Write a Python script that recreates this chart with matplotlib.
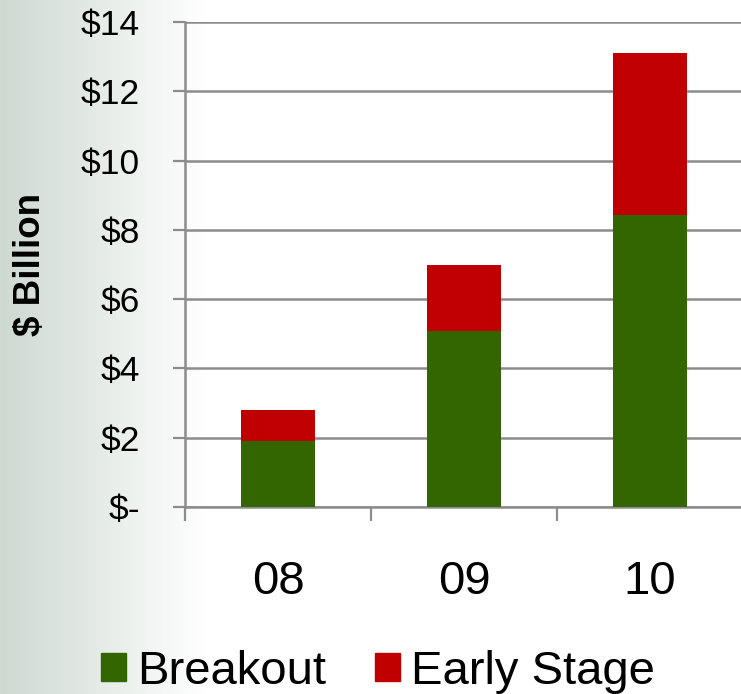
import numpy as np
import matplotlib
matplotlib.use("Agg")
import matplotlib.pyplot as plt
from matplotlib.patches import Rectangle

plt.rcParams['font.family'] = ['Liberation Sans', 'DejaVu Sans']

# Investment by year, $ billion
years = ["08", "09", "10"]
breakout = [1.9, 5.08, 8.43]
early_stage = [0.9, 1.92, 4.67]
y_ticks = [0, 2, 4, 6, 8, 10, 12, 14]
y_tick_labels = ["$-", "$2", "$4", "$6", "$8", "$10", "$12", "$14"]

GREEN = "#336600"
RED = "#C00000"
GRID = "#8c8c8c"

fig = plt.figure(figsize=(7.41, 6.94), dpi=100)

# soft grey-green wash fading to white from the left edge
bg = fig.add_axes([0, 0, 1, 1], zorder=-10)
w = 741
xs = np.arange(w)
t = np.clip(xs / 205.0, 0, 1)
left = np.array([206, 217, 210]) / 255.0
right = np.array([1.0, 1.0, 1.0])
row = left[None, :] * (1 - t[:, None]) + right[None, :] * t[:, None]
img = np.repeat(row[None, :, :], 10, axis=0)
bg.imshow(img, aspect='auto', extent=[0, 1, 0, 1])
bg.axis('off')

ax = fig.add_axes([185 / 741, 187 / 694, 558 / 741, 485 / 694])
ax.set_facecolor('none')

x = np.arange(len(years))
bw = 0.403
ax.bar(x, breakout, width=bw, color=GREEN, zorder=3)
ax.bar(x, early_stage, width=bw, bottom=breakout, color=RED, zorder=3)

ax.set_xlim(-0.5, 2.5)
ax.set_ylim(0, 14)

ax.set_yticks(y_ticks)
ax.set_yticklabels(y_tick_labels, fontsize=25.5)
ax.tick_params(axis='y', length=9, width=1.6, color=GRID, pad=23.5)
ax.yaxis.grid(True, color=GRID, linewidth=1.8, zorder=0)
ax.set_axisbelow(True)

# category boundaries as tick marks, labels at centres
ax.set_xticks([-0.5, 0.5, 1.5, 2.5])
ax.set_xticklabels([])
ax.tick_params(axis='x', which='major', length=10, width=1.6, color=GRID)
ax.set_xticks(x, minor=True)
ax.set_xticklabels(years, minor=True, fontsize=34)
ax.tick_params(axis='x', which='minor', length=0, pad=38)

for s in ['top', 'right']:
    ax.spines[s].set_visible(False)
for s in ['left', 'bottom']:
    ax.spines[s].set_color(GRID)
    ax.spines[s].set_linewidth(1.8)

ax.set_ylabel("$ Billion", fontsize=26.5, fontweight='bold', va='center')
ax.yaxis.set_label_coords(-0.276, 0.5)

handles = [Rectangle((0, 0), 1, 1, color=GREEN), Rectangle((0, 0), 1, 1, color=RED)]
fig.legend(handles, ["Breakout", "Early Stage"], loc='center',
           bbox_to_anchor=(0.51, 0.032), ncol=2, frameon=False, fontsize=34,
           handlelength=0.53, handleheight=0.53, handletextpad=0.22,
           columnspacing=1.05, borderpad=0, borderaxespad=0)

fig.savefig("out.png", dpi=100)
